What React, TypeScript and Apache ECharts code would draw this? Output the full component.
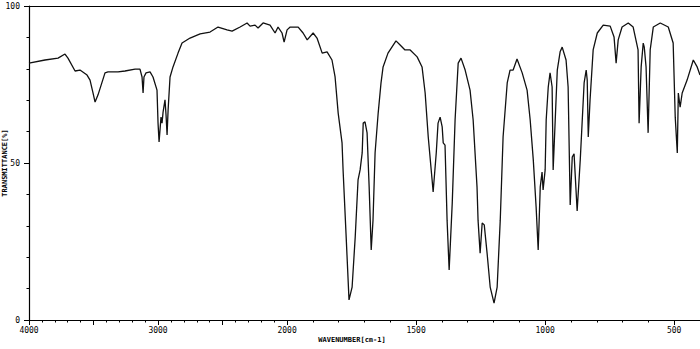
import React, { useEffect, useRef } from "react";
import * as echarts from "echarts";

// Spectrum (wavenumber in cm-1, transmittance in %)
const wavenumbers = [
  4000, 3876, 3775, 3721, 3698, 3643, 3605, 3550, 3527, 3504, 3488, 3465, 3411, 3388, 3310, 3256, 3178, 3140,
  3124, 3116, 3109, 3093, 3062, 3039, 3008, 3000, 2992, 2977, 2969, 2961, 2946, 2938, 2930, 2922, 2907, 2884,
  2845, 2814, 2752, 2674, 2597, 2535, 2465, 2426, 2364, 2310, 2287, 2248, 2225, 2186, 2132, 2093, 2070, 2039,
  2023, 2000, 1988, 1957, 1938, 1922, 1899, 1884, 1864, 1845, 1826, 1814, 1802, 1787, 1783, 1771, 1760, 1748,
  1736, 1725, 1717, 1709, 1705, 1698, 1690, 1682, 1674, 1667, 1659, 1647, 1636, 1628, 1609, 1578, 1562, 1543,
  1523, 1496, 1477, 1465, 1453, 1438, 1434, 1422, 1415, 1407, 1399, 1395, 1388, 1380, 1372, 1360, 1349, 1337,
  1326, 1310, 1291, 1279, 1264, 1260, 1252, 1244, 1236, 1225, 1213, 1198, 1186, 1174, 1163, 1147, 1136, 1124,
  1109, 1089, 1070, 1058, 1046, 1035, 1027, 1019, 1012, 1008, 1000, 996, 988, 981, 973, 969, 961, 953, 942,
  934, 919, 911, 903, 895, 888, 876, 864, 849, 841, 837, 833, 826, 814, 798, 775, 748, 733, 725, 717, 702, 678,
  659, 640, 636, 628, 620, 616, 609, 601, 593, 581, 554, 523, 504, 496, 488, 484, 477, 469, 450, 426, 411, 400,
];
const transmittance = [
  81.8, 82.8, 83.4, 84.7, 83.4, 79.3, 79.6, 78.0, 76.4, 72.3, 69.4, 71.7, 78.7, 79.0, 79.0, 79.3, 79.9, 79.9,
  77.4, 72.3, 77.4, 78.7, 79.0, 77.4, 73.2, 62.7, 56.7, 64.6, 62.7, 66.2, 70.1, 65.3, 58.9, 66.9, 77.4, 80.6,
  85.0, 88.2, 89.8, 91.1, 91.7, 93.3, 92.4, 92.0, 93.3, 94.6, 93.6, 93.9, 93.0, 94.6, 93.9, 91.4, 93.3, 91.4,
  88.5, 92.4, 93.3, 93.3, 91.4, 89.2, 91.4, 89.8, 85.0, 85.4, 82.8, 77.4, 65.9, 56.4, 47.8, 26.4, 6.4, 10.5,
  26.4, 44.6, 47.8, 53.2, 62.7, 63.1, 59.6, 42.4, 22.3, 31.8, 53.2, 65.9, 75.5, 80.6, 85.0, 88.9, 87.6, 86.0,
  86.0, 83.8, 80.6, 72.3, 58.3, 44.6, 40.8, 53.2, 62.7, 64.6, 61.5, 56.4, 55.7, 31.8, 15.9, 37.3, 63.7, 81.8,
  83.4, 79.6, 73.2, 63.7, 42.4, 31.8, 21.3, 30.9, 30.3, 21.3, 10.5, 5.4, 10.5, 31.8, 58.3, 75.5, 79.6, 79.6,
  83.1, 78.7, 73.2, 63.7, 51.0, 36.0, 22.3, 42.4, 47.1, 41.4, 47.8, 63.7, 74.2, 78.7, 74.2, 47.8, 63.7, 79.6, 85.4,
  86.9, 82.8, 74.2, 36.6, 51.9, 52.9, 34.7, 51.0, 75.5, 79.6, 76.4, 58.3, 70.1, 86.0, 91.4, 93.9, 93.6, 90.1, 81.8, 89.2, 93.3, 94.6,
  93.3, 86.0, 62.7, 80.6, 88.2, 86.9, 80.6, 59.6, 86.0, 93.3, 94.6, 93.3, 88.2, 64.6, 53.2, 72.3, 67.8, 72.3, 76.4, 82.8, 80.6, 78.0,
];

const xLabelValues = [4000, 3000, 2000, 1500, 1000, 500];
const xMajorTicks = [4000, 3500, 3000, 2500, 2000, 1500, 1000, 500];
const xMinorTicks = [
  4000, 3900, 3800, 3700, 3600, 3500, 3400, 3300, 3200, 3100, 3000, 2900, 2800, 2700, 2600, 2500, 2400, 2300,
  2200, 2100, 2000, 1900, 1800, 1700, 1600, 1500, 1400, 1300, 1200, 1100, 1000, 900, 800, 700, 600, 500, 400,
];
const yLabelValues = [0, 50, 100];
const yMinorTicks = [0, 10, 20, 30, 40, 50, 60, 70, 80, 90, 100];

// Axis scale changes at 2000 cm-1 (500 cm-1 per unit below, 1000 above)
const toU = (w: number) => (w >= 2000 ? (4000 - w) / 1000 : 2 + (2000 - w) / 500);
const fromU = (u: number) => (u <= 2 ? 4000 - u * 1000 : 2000 - (u - 2) * 500);

const FONT = "'DejaVu Sans Mono', monospace";

export default function App() {
  const ref = useRef<HTMLDivElement>(null);
  useEffect(() => {
    if (!ref.current) return;
    const chart = echarts.init(ref.current, undefined, { renderer: "svg" });
    const data = wavenumbers.map((w, i) => [toU(w), transmittance[i]]);
    const axisLine = { show: true, lineStyle: { color: "#000", width: 1.2 } };
    chart.setOption({
      animation: false,
      backgroundColor: "#fff",
      grid: { left: 29, right: 0, top: 6, bottom: 29, containLabel: false, outerBoundsMode: "none" },
      xAxis: [
        {
          type: "value",
          min: 0,
          max: toU(400),
          position: "bottom",
          axisLine,
          axisTick: {
            show: true,
            length: 5,
            lineStyle: { color: "#000" },
            customValues: xMajorTicks.map(toU),
          },
          axisLabel: {
            show: true,
            customValues: xLabelValues.map(toU),
            formatter: (v: number) => String(Math.round(fromU(v))),
            fontSize: 8,
            fontFamily: FONT,
            color: "#000",
            margin: 6,
          },
          splitLine: { show: false },
        },
        {
          type: "value",
          min: 0,
          max: toU(400),
          position: "bottom",
          axisLine: { show: false },
          axisTick: {
            show: true,
            length: 2.5,
            lineStyle: { color: "#000" },
            customValues: xMinorTicks.map(toU),
          },
          axisLabel: { show: false },
          splitLine: { show: false },
        },
        {
          type: "value",
          min: 0,
          max: toU(400),
          position: "top",
          axisLine,
          axisTick: { show: false },
          axisLabel: { show: false },
          splitLine: { show: false },
        },
      ],
      yAxis: [
        {
          type: "value",
          min: 0,
          max: 100,
          position: "left",
          axisLine,
          axisTick: {
            show: true,
            length: 5,
            lineStyle: { color: "#000" },
            customValues: yLabelValues,
          },
          axisLabel: {
            show: true,
            customValues: yLabelValues,
            fontSize: 8,
            fontFamily: FONT,
            color: "#000",
            margin: 9,
          },
          splitLine: { show: false },
        },
        {
          type: "value",
          min: 0,
          max: 100,
          position: "left",
          axisLine: { show: false },
          axisTick: {
            show: true,
            length: 2.5,
            lineStyle: { color: "#000" },
            customValues: yMinorTicks,
          },
          axisLabel: { show: false },
          splitLine: { show: false },
        },
      ],
      graphic: [
        {
          type: "text",
          x: 352,
          y: 340,
          style: {
            text: "WAVENUMBER[cm-1]",
            fontSize: 7,
            fontFamily: FONT,
            fontWeight: "bold",
            fill: "#000",
            align: "center",
            verticalAlign: "middle",
          },
        },
        {
          type: "text",
          x: 5,
          y: 163,
          rotation: Math.PI / 2,
          style: {
            text: "TRANSMITTANCE[%]",
            fontSize: 7,
            fontFamily: FONT,
            fontWeight: "bold",
            fill: "#000",
            align: "center",
            verticalAlign: "middle",
          },
        },
      ],
      series: [
        {
          type: "line",
          xAxisIndex: 0,
          yAxisIndex: 0,
          data,
          showSymbol: false,
          symbol: "none",
          lineStyle: { color: "#111", width: 1.3 },
          silent: true,
        },
      ],
    });
    return () => chart.dispose();
  }, []);
  return (
    <div
      ref={ref}
      style={{ position: "fixed", left: 0, top: 0, width: 700, height: 349, background: "#fff" }}
    />
  );
}
